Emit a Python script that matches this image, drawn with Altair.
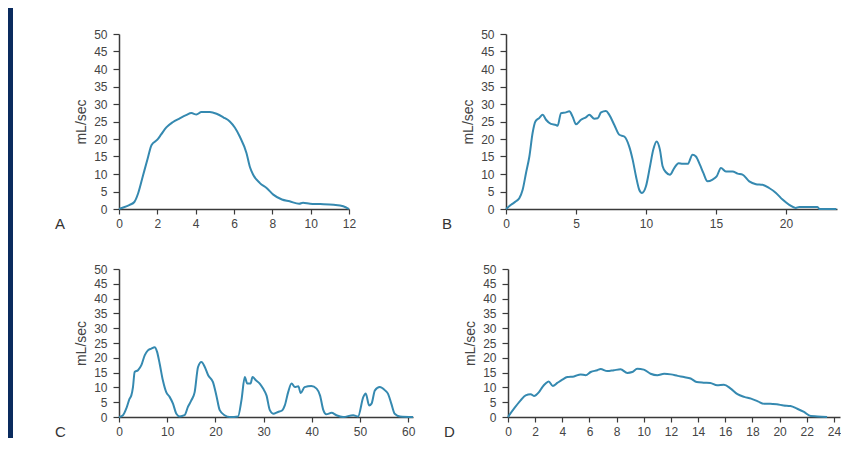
import altair as alt
import pandas as pd

# ---- data (time in s, flow in mL/sec) ----
a_t = [0, 0.1, 0.56, 0.8, 1.0, 1.25, 1.5, 1.7, 2.0, 2.2, 2.47, 2.8, 3.17, 3.5, 3.78, 4.04, 4.3, 4.74, 5.09, 5.44, 5.78, 6.05, 6.3, 6.65, 6.83, 7.0, 7.35, 7.7, 8.05, 8.5, 8.9, 9.4, 9.6, 9.97, 10.5, 11.2, 11.7, 12.0]
a_f = [0, 0.2, 1.2, 2.0, 4.5, 9.5, 14.5, 18.3, 19.8, 21.3, 23.3, 24.8, 25.9, 26.8, 27.4, 27.0, 27.7, 27.7, 27.2, 26.2, 25.0, 23.2, 20.7, 16.0, 12.0, 9.8, 7.4, 6.0, 4.1, 2.7, 2.2, 1.5, 1.8, 1.5, 1.4, 1.2, 0.8, 0.0]

b_t = [0, 0.36, 0.71, 0.95, 1.19, 1.43, 1.67, 1.9, 2.1, 2.38, 2.62, 2.86, 3.21, 3.57, 3.69, 3.93, 4.29, 4.52, 4.76, 5.0, 5.36, 5.71, 5.95, 6.31, 6.55, 6.79, 7.14, 7.38, 7.74, 8.1, 8.45, 8.8, 9.05, 9.29, 9.52, 9.71, 10.0, 10.29, 10.52, 10.76, 11.0, 11.19, 11.43, 11.71, 12.02, 12.33, 12.62, 12.98, 13.33, 13.57, 13.86, 14.1, 14.4, 14.76, 15.05, 15.36, 15.71, 16.19, 16.55, 16.9, 17.38, 17.86, 18.33, 18.8, 19.29, 19.76, 20.24, 20.7, 20.95, 22.26, 22.4, 23.6]
b_f = [0, 1.2, 2.2, 3.1, 5.5, 10.3, 15.0, 21.7, 25.0, 26.0, 26.9, 25.5, 24.3, 24.0, 23.8, 27.4, 27.6, 27.9, 26.4, 24.2, 25.5, 26.2, 26.9, 25.8, 25.9, 27.6, 28.0, 26.9, 24.0, 21.2, 20.7, 17.9, 14.1, 9.3, 5.5, 4.6, 6.5, 12.2, 16.9, 19.3, 16.9, 12.2, 10.5, 9.8, 11.7, 13.1, 12.9, 12.9, 15.5, 15.0, 12.6, 10.3, 7.9, 8.4, 9.3, 11.7, 10.7, 10.7, 10.1, 9.8, 7.9, 7.1, 6.9, 6.0, 4.6, 2.7, 1.2, 0.3, 0.6, 0.6, 0.0, 0.0]

c_t = [0, 0.83, 1.5, 2.2, 2.56, 2.9, 3.25, 3.94, 4.64, 5.33, 6.0, 6.7, 7.4, 7.9, 8.44, 9.1, 9.8, 10.5, 11.2, 11.9, 12.6, 13.6, 14.3, 15.0, 15.7, 16.4, 17.1, 17.8, 18.5, 19.5, 20.2, 20.9, 21.9, 23.0, 24.7, 25.4, 26.1, 26.6, 27.3, 27.7, 28.4, 29.2, 29.9, 30.6, 31.3, 32.0, 33.0, 33.9, 34.4, 35.1, 35.8, 36.5, 37.2, 37.7, 38.5, 39.9, 41.0, 41.7, 42.4, 43.0, 44.1, 45.1, 46.5, 48.6, 49.6, 50.7, 51.2, 51.9, 52.4, 53.1, 54.1, 55.2, 55.8, 56.5, 57.2, 58.3, 61.0]
c_f = [0, 0.6, 2.8, 6.2, 7.3, 10.1, 15.2, 15.8, 17.5, 20.8, 22.5, 23.1, 23.6, 22.0, 18.0, 12.4, 8.4, 6.8, 4.5, 1.1, 0.2, 0.6, 3.4, 5.6, 8.4, 16.9, 18.6, 16.9, 14.1, 11.8, 7.3, 2.3, 0.6, 0.0, 0.2, 5.6, 13.5, 11.3, 11.3, 13.5, 12.4, 11.3, 9.6, 7.3, 2.3, 1.1, 1.7, 2.3, 3.9, 8.4, 11.3, 10.1, 10.4, 8.1, 10.1, 10.5, 9.6, 7.3, 2.3, 0.9, 1.4, 0.6, 0.0, 0.6, 0.2, 6.8, 7.9, 3.9, 4.5, 9.0, 10.1, 9.0, 7.9, 4.5, 1.1, 0.2, 0.0]

d_t = [0, 0.44, 0.93, 1.3, 1.67, 1.91, 2.28, 2.53, 2.77, 3.0, 3.3, 3.63, 4.0, 4.37, 4.86, 5.35, 5.72, 6.09, 6.58, 6.82, 7.31, 7.8, 8.29, 8.79, 9.15, 9.52, 10.0, 10.5, 11.0, 11.5, 12.0, 12.5, 12.96, 13.45, 13.9, 14.4, 14.9, 15.4, 15.9, 16.4, 16.9, 17.4, 17.9, 18.4, 18.85, 19.3, 19.8, 20.3, 20.8, 21.3, 21.8, 22.3, 22.8, 23.5]
d_f = [0, 2.8, 5.6, 7.3, 7.7, 7.1, 8.4, 10.1, 11.3, 12.0, 10.5, 11.5, 12.6, 13.5, 13.7, 14.4, 14.1, 15.2, 15.8, 16.2, 15.5, 15.8, 16.1, 14.9, 15.2, 16.3, 16.0, 14.6, 14.1, 14.6, 14.4, 13.9, 13.5, 13.0, 11.8, 11.6, 11.5, 10.7, 10.9, 9.6, 7.7, 6.8, 6.2, 5.3, 4.5, 4.5, 4.3, 3.9, 3.7, 2.8, 1.7, 0.3, 0.2, 0.0]

y_ticks = list(range(0, 51, 5))
a_ticks = [0, 2, 4, 6, 8, 10, 12]
b_ticks = [0, 5, 10, 15, 20]
c_ticks = [0, 10, 20, 30, 40, 50, 60]
d_ticks = [0, 2, 4, 6, 8, 10, 12, 14, 16, 18, 20, 22, 24]

LINE = "#3589b0"
NAVY = "#0a2b5e"
FONT = "Liberation Sans"


def panel(t, f, xmax, xticks, w, h, letter, strip=None):
    df = pd.DataFrame({"t": t, "f": f})
    x = alt.X("t:Q", scale=alt.Scale(domain=[0, xmax], nice=False, zero=False),
              axis=alt.Axis(values=xticks, title=None, labelFlush=False, grid=False))
    y = alt.Y("f:Q", scale=alt.Scale(domain=[0, 50], nice=False),
              axis=alt.Axis(values=y_ticks, title="mL/sec", grid=False))
    line = alt.Chart(df).mark_line(color=LINE, strokeWidth=2, interpolate="monotone").encode(x=x, y=y)
    lab = alt.Chart(pd.DataFrame({"l": [letter]})).mark_text(
        align="left", baseline="alphabetic", fontSize=15, color="#333333", font=FONT
    ).encode(x=alt.value(-64), y=alt.value(h + 20), text="l:N")
    layers = [line, lab]
    if strip is not None:
        rect = alt.Chart(pd.DataFrame({"k": [0]})).mark_rect(color=NAVY).encode(
            x=alt.value(-111), x2=alt.value(-106), y=alt.value(strip[0]), y2=alt.value(strip[1]))
        layers.insert(0, rect)
    return alt.layer(*layers).properties(width=w, height=h)


A = panel(a_t, a_f, 12, a_ticks, 230, 175, "A", strip=(-26, 204))
B = panel(b_t, b_f, 23.65, b_ticks, 331, 175, "B")
C = panel(c_t, c_f, 61, c_ticks, 294, 148, "C", strip=(-31, 169))
D = panel(d_t, d_f, 24.45, d_ticks, 332, 148, "D")

top = alt.hconcat(A, B, spacing=86)
bot = alt.hconcat(C, D, spacing=27)

chart = alt.vconcat(top, bot, spacing=0).properties(
    padding=0, background="white"
).configure_view(stroke=None).configure_axis(
    domainColor="#3a3a3a", domainWidth=1.5, tickColor="#3a3a3a", tickWidth=1.2,
    labelFont=FONT, labelFontSize=12, labelColor="#444444",
    titleFont=FONT, titleFontSize=14, titleFontWeight="normal", titleColor="#444444",
    titlePadding=5
).configure_axisX(tickSize=5, labelPadding=4).configure_axisY(tickSize=6, labelPadding=6)

chart.save("out.html", embed_options={"renderer": "svg", "actions": False})
